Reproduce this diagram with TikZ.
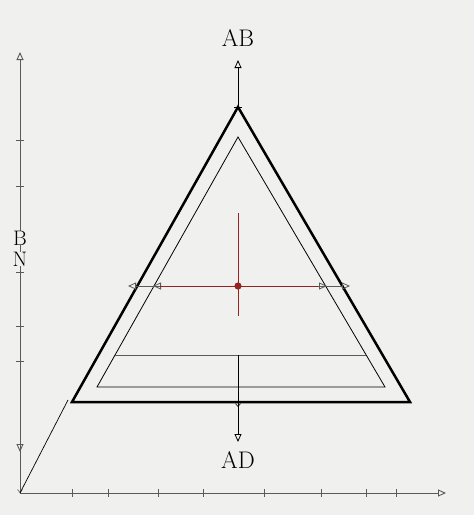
\documentclass[tikz,border=0pt]{standalone}
\usetikzlibrary{arrows.meta}
\definecolor{paper}{RGB}{240,240,238}
\definecolor{axisgray}{RGB}{90,90,90}
\definecolor{darkred}{RGB}{150,35,35}
\begin{document}
\begin{tikzpicture}[x=1pt,y=-1pt,
		opentip/.style={-{Triangle[open,length=8pt,width=7pt]}},
		smalltip/.style={-{Straight Barb[length=3pt,width=5pt]}},
		lbl/.style={font=\fontsize{24}{24}\selectfont,inner sep=1pt},
		axislbl/.style={font=\fontsize{21}{21}\selectfont,inner sep=0pt,fill=paper}]
				\fill[paper] (0,0) rectangle (474,515);
				\useasboundingbox (0,0) rectangle (474,515);
				\pgfmathsetmacro\CX{238}
				\pgfmathsetmacro\HY{286}
				\coordinate (O) at (20,493);
				\coordinate (Ytop) at (20,52);
				\coordinate (Xend) at (446,493);
				\coordinate (Ymid) at (20,452);
				\coordinate (Dend) at (68,400);
				\coordinate (Top) at (\CX,107);
				\coordinate (BL) at (72,402);
				\coordinate (BR) at (410,402);
				\coordinate (ITop) at (\CX,137);
				\coordinate (IBL) at (97,387);
				\coordinate (IBR) at (385,387);
				\coordinate (LL) at (115,355);
				\coordinate (LR) at (366,355);
				\coordinate (AxTop) at (\CX,60);
				\coordinate (AxLow) at (\CX,355);
				\coordinate (AxBot) at (\CX,442);
				\coordinate (C) at (\CX,\HY);

				% axes
				\draw[axisgray,line width=0.9pt,opentip] (O) -- (Ytop);
				\draw[axisgray,line width=0.9pt,opentip] (O) -- (Xend);
				\draw[axisgray,line width=0.9pt,opentip] (20,400) -- (Ymid);
				\draw[axisgray,line width=0.6pt,smalltip] (20,478) -- (O);
				\foreach \y in {140,186,272,326,361}
					\draw[axisgray,line width=0.9pt] (16,\y) -- (24,\y);
				\foreach \x in {72,108,158,203,264,321,366,396}
					\draw[axisgray,line width=0.9pt] (\x,489) -- (\x,497);
				\draw[line width=0.7pt] (O) -- (Dend);
				\draw node[axislbl] (labB) at (20,238) {B};
				\draw node[axislbl] (labN) at (20,259) {N};

				% triangles
				\draw[line width=2.5pt,line join=miter] (Top) -- (BL) -- (BR) -- cycle;
				\draw[line width=0.8pt] (ITop) -- (IBL) -- (IBR) -- cycle;
				\draw[line width=0.6pt,axisgray] (LL) -- (LR);

				% centre lines
				\draw[line width=0.8pt,opentip] (Top) -- (AxTop);
				\draw[line width=0.8pt] (\CX-4,107) -- (\CX+4,107);
				\draw[line width=0.8pt,opentip] (AxLow) -- (AxBot);
				\draw[line width=0.6pt,smalltip] (\CX,398) -- (\CX,407);
				\draw[darkred,line width=0.9pt] (\CX,213) -- (\CX,316);
				\draw[axisgray,line width=0.8pt,opentip] (160,\HY) -- (128,\HY);
				\draw[axisgray,line width=0.8pt,opentip] (170,\HY) -- (153,\HY);
				\draw[axisgray,line width=0.8pt,opentip] (318,\HY) -- (350,\HY);
				\draw[axisgray,line width=0.8pt,opentip] (305,\HY) -- (327,\HY);
				\draw[darkred,line width=0.9pt] (160,\HY) -- (318,\HY);
				\fill[darkred] (C) circle (3.6pt);

				\draw node[lbl] (labAB) at (\CX,38) {AB};
				\draw node[lbl] (labAD) at (\CX,460) {AD};
			\end{tikzpicture}
\end{document}
